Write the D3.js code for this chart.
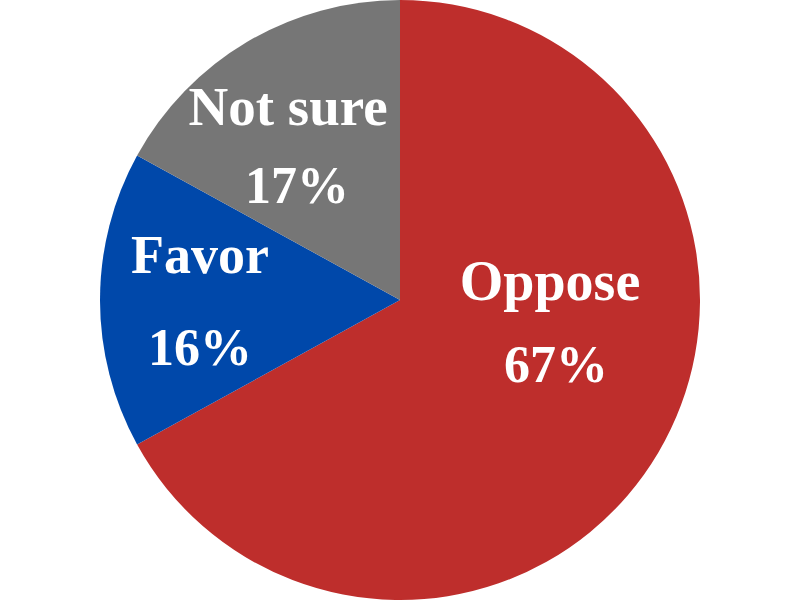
<!DOCTYPE html>
<html><head><meta charset="utf-8">
<script src="https://cdn.jsdelivr.net/npm/d3@7"></script>
<style>html,body{margin:0;padding:0;background:#fff;}</style>
</head><body>
<svg id="chart" width="800" height="600"></svg>
<script>
const categories = ["Oppose", "Favor", "Not sure"];
const values = [67, 16, 17];
const colors = ["#BE2E2C", "#0048AA", "#767676"];

// layout: label anchor points (name baseline, pct baseline) per slice
const labelLayout = [
  {x: 550, y1: 300, y2: 382},
  {x: 200, y1: 273, y2: 365},
  {x: 288, y1: 125, y2: 203}
];
const pctX = [556, 200, 297];
const nameSize = [56, 54, 55];

const svg = d3.select("#chart");
const cx = 400, cy = 300, R = 300;
const data = categories.map((c, i) => ({cat: c, val: values[i], i}));
const pie = d3.pie().sort(null).value(d => d.val);
const arc = d3.arc().innerRadius(0).outerRadius(R);
const g = svg.append("g").attr("transform", `translate(${cx},${cy})`);
g.selectAll("path").data(pie(data)).join("path")
  .attr("d", arc)
  .attr("fill", d => colors[d.data.i]);

const font = "'Liberation Serif', 'Times New Roman', serif";
data.forEach((d, i) => {
  const L = labelLayout[i];
  svg.append("text").attr("x", L.x).attr("y", L.y1)
    .attr("text-anchor", "middle").attr("font-family", font)
    .attr("font-weight", "bold").attr("font-size", nameSize[i]).attr("fill", "#fff")
    .text(d.cat);
  svg.append("text").attr("x", pctX[i]).attr("y", L.y2)
    .attr("text-anchor", "middle").attr("font-family", font)
    .attr("font-weight", "bold").attr("font-size", 52).attr("fill", "#fff")
    .text(d.val + "%");
});
</script>
</body></html>
